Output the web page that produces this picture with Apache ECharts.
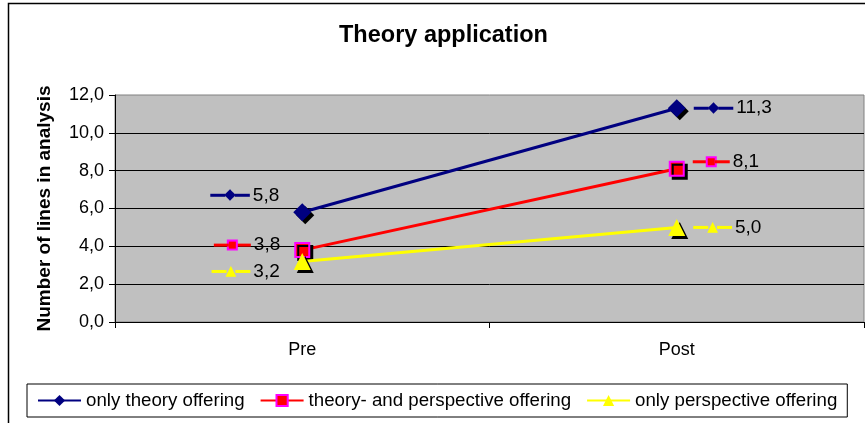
<!DOCTYPE html>
<html>
<head>
<meta charset="utf-8">
<script src="https://cdn.jsdelivr.net/npm/echarts@6/dist/echarts.min.js"></script>
<style>html,body{margin:0;padding:0;background:#fff}#c{width:865px;height:423px}</style>
</head>
<body>
<div id="c"></div>
<script>
var categories = ['Pre', 'Post'];
var seriesNames = ['only theory offering', 'theory- and perspective offering', 'only perspective offering'];
var theoryValues = [5.8, 11.3];
var bothValues = [3.8, 8.1];
var perspectiveValues = [3.2, 5.0];
var yTicks = {min: 0, max: 12, interval: 2};

var FONT = "'Liberation Sans', Arial, sans-serif";
var navy = '#000080', red = '#FF0000', yellow = '#FFFF00', magenta = '#FF00FF';

function fmt(v) { return v.toFixed(1).replace('.', ','); }

// label layout (style only)
var labelOffsets = [
  [[0, -17], [0, 0]],
  [[0, -5], [0, -7]],
  [[0, 10], [0, 0]]
];

function richFor(color, kind) {
  var r = {
    l: {width: 15, height: 3, backgroundColor: color},
    v: {fontSize: 19, color: '#000', fontFamily: FONT, padding: [0, 0, 0, 3]}
  };
  if (kind === 'diamond') r.m = {fontSize: 15, color: color, fontFamily: 'DejaVu Sans', padding: [0, -1, 0, -1]};
  if (kind === 'square') r.m = {width: 7, height: 7, backgroundColor: red, borderColor: magenta, borderWidth: 2};
  if (kind === 'triangle') r.m = {fontSize: 14, color: color, fontFamily: 'DejaVu Sans', padding: [0, -1, 0, -1]};
  return r;
}
function glyph(kind) { return kind === 'diamond' ? '◆' : (kind === 'triangle' ? '▲' : ''); }

function makeSeries(idx, values, color, symbol, symbolSize, kind, extraItem) {
  return {
    name: seriesNames[idx],
    type: 'line',
    data: values.map(function (v, i) {
      return {
        value: v,
        label: {position: i === 0 ? 'left' : 'right', offset: labelOffsets[idx][i], distance: i === 0 ? 14 : 8}
      };
    }),
    symbol: symbol,
    symbolSize: symbolSize,
    lineStyle: {color: color, width: 3},
    itemStyle: Object.assign({color: color, shadowColor: '#000', shadowOffsetX: 3, shadowOffsetY: 3, shadowBlur: 0}, extraItem || {}),
    label: {
      show: true,
      formatter: function (p) { return '{l|}{m|' + glyph(kind) + '}{l|}{v|' + fmt(p.value) + '}'; },
      rich: richFor(color, kind)
    },
    emphasis: {disabled: true},
    z: 3 + idx
  };
}

var chart = echarts.init(document.getElementById('c'), null, {renderer: 'canvas'});
chart.setOption({
  animation: false,
  backgroundColor: '#fff',
  textStyle: {fontFamily: FONT},
  title: {
    text: 'Theory application', left: 339, top: 24, padding: 0,
    textStyle: {fontFamily: FONT, fontSize: 23.5, fontWeight: 'bold', color: '#000'}
  },
  graphic: [{
    type: 'rect', z: -1, silent: true,
    shape: {x: 8.5, y: 3.5, width: 900, height: 500},
    style: {fill: 'none', stroke: '#000', lineWidth: 1.5}
  }],
  legend: {
    left: 27, top: 384, padding: [7, 10, 7, 10],
    borderColor: '#000', borderWidth: 1,
    itemWidth: 43, itemHeight: 14, itemGap: 15,
    textStyle: {fontFamily: FONT, fontSize: 18.7, color: '#000'},
    itemStyle: {shadowColor: 'rgba(0,0,0,0)', shadowOffsetX: 0, shadowOffsetY: 0},
    data: seriesNames
  },
  grid: {
    left: 115, top: 95, width: 749, height: 227,
    show: true, backgroundColor: '#C0C0C0', borderColor: '#808080', borderWidth: 1
  },
  xAxis: {
    type: 'category', data: categories, boundaryGap: true,
    axisLine: {lineStyle: {color: '#000', width: 1}},
    axisTick: {show: true, length: 6, lineStyle: {color: '#000'}},
    axisLabel: {fontFamily: FONT, fontSize: 18, color: '#000', margin: 19},
    splitLine: {show: false}
  },
  yAxis: {
    type: 'value', min: yTicks.min, max: yTicks.max, interval: yTicks.interval,
    name: 'Number of lines in analysis', nameLocation: 'middle', nameGap: 61,
    nameTextStyle: {fontFamily: FONT, fontSize: 19, fontWeight: 'bold', color: '#000'},
    axisLine: {show: true, lineStyle: {color: '#000', width: 1}},
    axisTick: {show: true, length: 6, lineStyle: {color: '#000'}},
    axisLabel: {fontFamily: FONT, fontSize: 18, color: '#000', margin: 11, formatter: function (v) { return fmt(v); }},
    splitLine: {show: true, showMaxLine: false, lineStyle: {color: '#000', width: 1}}
  },
  series: [
    makeSeries(0, theoryValues, navy, 'diamond', 18, 'diamond'),
    makeSeries(1, bothValues, red, 'rect', 14, 'square', {borderColor: magenta, borderWidth: 2}),
    makeSeries(2, perspectiveValues, yellow, 'triangle', 17, 'triangle')
  ]
});
</script>
</body>
</html>
